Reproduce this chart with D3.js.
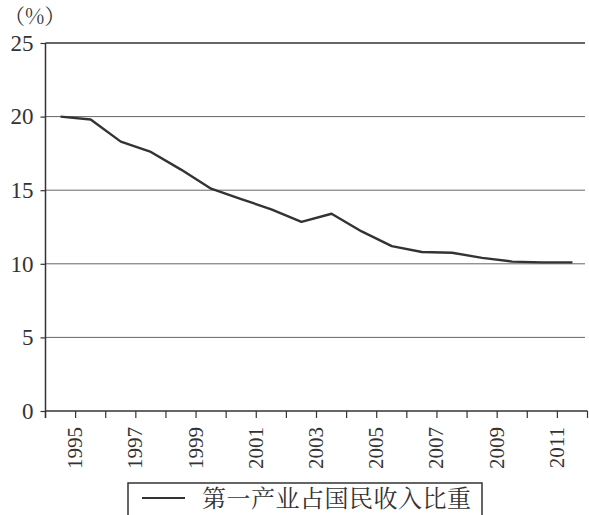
<!DOCTYPE html>
<html>
<head>
<meta charset="utf-8">
<script src="https://cdn.jsdelivr.net/npm/d3@7/dist/d3.min.js"></script>
<style>
  html, body { margin: 0; padding: 0; background: #fff; }
  svg { display: block; }
</style>
</head>
<body>
<svg id="chart" width="589" height="515"></svg>
<script>
// ---- data ----
const years = [1995, 1996, 1997, 1998, 1999, 2000, 2001, 2002, 2003, 2004, 2005, 2006, 2007, 2008, 2009, 2010, 2011, 2012];
const share = [20.0, 19.8, 18.3, 17.6, 16.4, 15.1, 14.4, 13.7, 12.85, 13.4, 12.2, 11.2, 10.8, 10.75, 10.4, 10.15, 10.1, 10.1];
const yTicks = [0, 5, 10, 15, 20, 25];
const xLabelYears = [1995, 1997, 1999, 2001, 2003, 2005, 2007, 2009, 2011];
const unitLabel = "（%）";
const seriesName = "第一产业占国民收入比重";

const SERIF = '"Liberation Serif", "Noto Serif CJK SC"';
const SONG = '"Noto Serif CJK SC", "Liberation Serif"';

const svg = d3.select("#chart");
const mLeft = 45.5, mRight = 587.5, mTop = 43, mBottom = 411;

const x = d3.scaleBand().domain(years).range([mLeft, mRight]).paddingInner(0).paddingOuter(0);
const y = d3.scaleLinear().domain([0, 25]).range([mBottom, mTop]);
const bw = x.bandwidth();

// gridlines
svg.append("g").selectAll("line")
  .data(yTicks.filter(d => d > 0))
  .join("line")
  .attr("x1", mLeft).attr("x2", 585)
  .attr("y1", d => y(d)).attr("y2", d => y(d))
  .attr("stroke", d => d === 25 ? "#333" : "#666")
  .attr("stroke-width", d => d === 25 ? 1.5 : 1);

// y axis
const yAxis = svg.append("g")
  .attr("transform", `translate(${mLeft},0)`)
  .call(d3.axisLeft(y).tickValues(yTicks).tickSize(5).tickPadding(7).tickFormat(d3.format("d")));
yAxis.attr("font-family", null).attr("font-size", null);
yAxis.select(".domain").attr("stroke", "#333").attr("stroke-width", 1.5).attr("d", `M0,${mTop}V${mBottom + 7}`);
yAxis.selectAll(".tick line").attr("stroke", "#333").attr("stroke-width", 1.2);
yAxis.selectAll("text")
  .style("font-family", SERIF)
  .style("font-size", "23px").attr("fill", "#333");

// x axis line and ticks at category boundaries
const boundaries = years.map(d => x(d)).concat([x(years[years.length - 1]) + bw]);
svg.append("line")
  .attr("x1", mLeft).attr("x2", mRight)
  .attr("y1", mBottom).attr("y2", mBottom)
  .attr("stroke", "#333").attr("stroke-width", 1.5);
svg.append("g").selectAll("line")
  .data(boundaries)
  .join("line")
  .attr("x1", d => d).attr("x2", d => d)
  .attr("y1", mBottom).attr("y2", mBottom + 7)
  .attr("stroke", "#333").attr("stroke-width", 1.2);

// x labels (rotated)
svg.append("g").selectAll("text")
  .data(xLabelYears)
  .join("text")
  .attr("transform", d => `translate(${x(d) + bw - 0.5},427) rotate(-90)`)
  .attr("text-anchor", "end")
  .attr("dominant-baseline", "central")
  .style("font-family", SERIF)
  .style("font-size", "21px")
  .attr("fill", "#333")
  .text(d => d);

// line
const line = d3.line()
  .x((d, i) => x(years[i]) + bw / 2)
  .y(d => y(d));
svg.append("path")
  .datum(share)
  .attr("d", line)
  .attr("fill", "none")
  .attr("stroke", "#333")
  .attr("stroke-width", 2.4)
  .attr("stroke-linejoin", "round");

// unit label
svg.append("text")
  .attr("x", 4).attr("y", 24)
  .style("font-family", SONG)
  .style("font-size", "21px")
  .attr("fill", "#333")
  .text(unitLabel);

// legend
svg.append("rect")
  .attr("x", 128).attr("y", 483)
  .attr("width", 354).attr("height", 45)
  .attr("fill", "#fff")
  .attr("stroke", "#333").attr("stroke-width", 1.5);
svg.append("line")
  .attr("x1", 142).attr("x2", 185)
  .attr("y1", 498).attr("y2", 498)
  .attr("stroke", "#333").attr("stroke-width", 2.2);
svg.append("text")
  .attr("x", 202).attr("y", 507)
  .style("font-family", SONG)
  .style("font-size", "24px")
  .style("letter-spacing", "0.5px")
  .attr("fill", "#333")
  .text(seriesName);
</script>
</body>
</html>
